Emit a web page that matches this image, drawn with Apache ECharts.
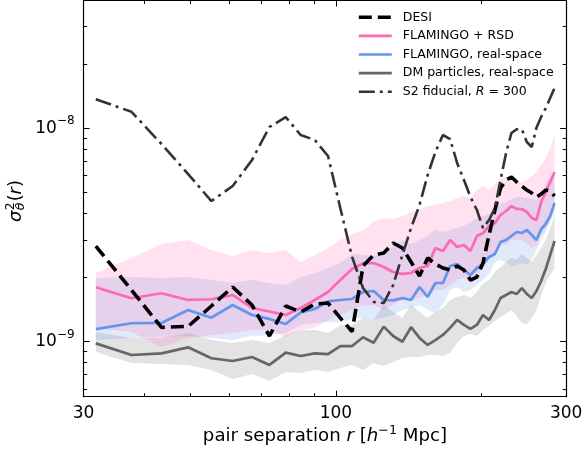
<!DOCTYPE html>
<html><head><meta charset="utf-8">
<script src="https://cdn.jsdelivr.net/npm/echarts@6/dist/echarts.min.js"></script>
<style>html,body{margin:0;padding:0;background:#fff}#c{width:583px;height:450px}</style>
</head><body><div id="c"></div>
<script>
// ---------- data ----------
const rValues = [31.8,37.7,43.5,49.4,55.2,61.1,67.0,72.8,78.7,84.5,90.4,96.3,102.1,108.0,113.8,119.7,125.6,131.4,137.3,143.1,149.0,154.9,160.7,166.6,172.4,178.3,184.2,190.0,195.9,201.7,207.6,213.5,219.3,225.2,231.0,236.9,242.8,248.6,254.5,260.3,266.2,272.1,277.9,283.8];

const desiLine = [2.806e-9,1.745e-9,1.165e-9,1.178e-9,1.468e-9,1.803e-9,1.484e-9,1.062e-9,1.468e-9,1.376e-9,1.500e-9,1.516e-9,1.291e-9,1.113e-9,2.261e-9,2.547e-9,2.602e-9,2.899e-9,2.746e-9,2.362e-9,2.030e-9,2.466e-9,2.311e-9,2.213e-9,2.166e-9,2.261e-9,2.166e-9,1.944e-9,2.008e-9,2.336e-9,3.160e-9,4.140e-9,5.248e-9,5.720e-9,5.908e-9,5.598e-9,5.362e-9,5.134e-9,4.971e-9,4.761e-9,4.918e-9,5.134e-9,5.078e-9,4.812e-9];

const rsdLine = [1.797e-9,1.596e-9,1.685e-9,1.567e-9,1.579e-9,1.654e-9,1.437e-9,1.383e-9,1.333e-9,1.437e-9,1.567e-9,1.708e-9,1.944e-9,2.189e-9,2.323e-9,2.336e-9,2.237e-9,2.120e-9,2.075e-9,2.097e-9,2.213e-9,2.261e-9,2.746e-9,2.658e-9,2.994e-9,2.777e-9,2.837e-9,2.658e-9,3.125e-9,3.229e-9,3.481e-9,3.596e-9,3.922e-9,4.094e-9,4.319e-9,4.185e-9,4.185e-9,4.052e-9,3.797e-9,3.716e-9,4.512e-9,5.025e-9,5.598e-9,6.237e-9];
const rsdUpper = [2.097e-9,2.466e-9,2.868e-9,2.994e-9,2.688e-9,2.519e-9,2.688e-9,2.602e-9,2.688e-9,2.362e-9,2.547e-9,2.746e-9,2.994e-9,3.194e-9,3.335e-9,3.637e-9,3.797e-9,3.756e-9,3.879e-9,4.052e-9,4.140e-9,4.319e-9,4.367e-9,4.462e-9,4.562e-9,4.711e-9,4.812e-9,4.711e-9,5.134e-9,5.361e-9,5.134e-9,5.420e-9,5.844e-9,5.844e-9,5.656e-9,5.537e-9,5.598e-9,5.720e-9,5.973e-9,6.237e-9,6.726e-9,7.25e-9,8.082e-9,9.373e-9];
const rsdLower = [1.159e-9,1.110e-9,0.943e-9,1.040e-9,1.074e-9,1.098e-9,1.134e-9,1.134e-9,1.051e-9,1.134e-9,1.159e-9,1.263e-9,1.333e-9,1.406e-9,1.484e-9,1.484e-9,1.406e-9,1.484e-9,1.567e-9,1.567e-9,1.601e-9,1.654e-9,1.745e-9,1.745e-9,1.842e-9,1.944e-9,1.987e-9,1.882e-9,2.052e-9,2.213e-9,2.413e-9,2.547e-9,2.837e-9,2.837e-9,2.994e-9,2.994e-9,2.994e-9,2.868e-9,2.746e-9,2.837e-9,3.160e-9,3.407e-9,3.797e-9,4.367e-9];

const realLine = [1.143e-9,1.219e-9,1.223e-9,1.406e-9,1.294e-9,1.484e-9,1.333e-9,1.277e-9,1.210e-9,1.369e-9,1.421e-9,1.542e-9,1.567e-9,1.584e-9,1.708e-9,1.726e-9,1.567e-9,1.560e-9,1.601e-9,1.567e-9,1.803e-9,1.619e-9,1.882e-9,1.882e-9,2.261e-9,2.311e-9,2.166e-9,2.052e-9,2.213e-9,2.311e-9,2.493e-9,2.575e-9,2.930e-9,2.994e-9,3.125e-9,3.264e-9,3.229e-9,3.335e-9,3.160e-9,2.994e-9,3.371e-9,3.558e-9,3.879e-9,4.462e-9];
const realUpper = [1.987e-9,2.008e-9,1.987e-9,2.008e-9,1.944e-9,1.882e-9,1.944e-9,1.882e-9,1.842e-9,2.008e-9,2.097e-9,2.213e-9,2.336e-9,2.575e-9,2.547e-9,2.519e-9,2.547e-9,2.806e-9,2.994e-9,2.868e-9,2.994e-9,3.125e-9,3.335e-9,3.264e-9,3.335e-9,3.407e-9,3.481e-9,3.637e-9,3.797e-9,3.879e-9,3.964e-9,4.274e-9,4.414e-9,4.512e-9,4.660e-9,4.761e-9,4.761e-9,4.711e-9,4.660e-9,4.610e-9,4.918e-9,5.479e-9,5.844e-9,6.169e-9];
const realLower = [1.017e-9,1.040e-9,1.051e-9,1.062e-9,1.040e-9,1.017e-9,1.062e-9,1.074e-9,1.098e-9,1.197e-9,1.223e-9,1.236e-9,1.236e-9,1.277e-9,1.291e-9,1.263e-9,1.291e-9,1.333e-9,1.406e-9,1.437e-9,1.484e-9,1.406e-9,1.361e-9,1.484e-9,1.745e-9,1.803e-9,1.708e-9,1.745e-9,1.842e-9,1.944e-9,2.075e-9,2.362e-9,2.413e-9,2.362e-9,2.261e-9,2.286e-9,2.336e-9,2.286e-9,2.413e-9,2.688e-9,2.994e-9,3.264e-9,3.637e-9,3.964e-9];

const dmLine = [0.981e-9,0.865e-9,0.881e-9,0.940e-9,0.835e-9,0.811e-9,0.847e-9,0.777e-9,0.887e-9,0.856e-9,0.881e-9,0.874e-9,0.953e-9,0.953e-9,1.048e-9,0.988e-9,1.175e-9,1.062e-9,0.998e-9,1.168e-9,1.040e-9,0.964e-9,1.017e-9,1.074e-9,1.159e-9,1.263e-9,1.197e-9,1.146e-9,1.197e-9,1.333e-9,1.263e-9,1.406e-9,1.601e-9,1.654e-9,1.708e-9,1.672e-9,1.783e-9,1.672e-9,1.601e-9,1.726e-9,1.923e-9,2.189e-9,2.547e-9,2.961e-9];
const dmUpper = [1.110e-9,1.040e-9,1.040e-9,1.098e-9,1.017e-9,0.985e-9,1.017e-9,0.985e-9,1.074e-9,1.134e-9,1.134e-9,1.098e-9,1.197e-9,1.197e-9,1.291e-9,1.263e-9,1.484e-9,1.376e-9,1.291e-9,1.484e-9,1.376e-9,1.291e-9,1.376e-9,1.437e-9,1.567e-9,1.619e-9,1.654e-9,1.601e-9,1.708e-9,1.882e-9,1.944e-9,2.120e-9,2.237e-9,2.362e-9,2.466e-9,2.413e-9,2.575e-9,2.466e-9,2.362e-9,2.547e-9,2.75e-9,3.0e-9,3.4e-9,3.9e-9];
const dmLower = [0.894e-9,0.794e-9,0.785e-9,0.777e-9,0.736e-9,0.668e-9,0.705e-9,0.654e-9,0.720e-9,0.713e-9,0.736e-9,0.720e-9,0.752e-9,0.777e-9,0.736e-9,0.794e-9,0.768e-9,0.803e-9,0.837e-9,0.847e-9,0.847e-9,0.865e-9,0.865e-9,0.856e-9,0.884e-9,0.985e-9,1.062e-9,1.086e-9,1.062e-9,1.134e-9,1.184e-9,1.249e-9,1.305e-9,1.348e-9,1.406e-9,1.319e-9,1.223e-9,1.210e-9,1.291e-9,1.406e-9,1.637e-9,1.882e-9,2.052e-9,2.213e-9];

const s2Line = [13.68e-9,11.95e-9,8.44e-9,6.103e-9,4.560e-9,5.361e-9,7.100e-9,10.14e-9,11.29e-9,9.302e-9,8.813e-9,7.412e-9,4.228e-9,2.497e-9,1.783e-9,1.534e-9,1.516e-9,1.842e-9,2.547e-9,3.407e-9,4.367e-9,6.038e-9,7.742e-9,9.302e-9,8.908e-9,6.872e-9,5.720e-9,4.761e-9,4.140e-9,3.407e-9,3.716e-9,4.228e-9,5.720e-9,7.657e-9,9.504e-9,9.896e-9,9.896e-9,8.625e-9,8.171e-9,10.07e-9,11.29e-9,12.44e-9,13.86e-9,15.45e-9];

const xLabelTicks = [30, 100, 300];
const xMajorTicks = [100];
const xMinorTicks = [40, 50, 60, 70, 80, 90, 200];
const yLabelTicks = [1e-9, 1e-8];
const yMinorTicks = [6e-10, 7e-10, 8e-10, 9e-10, 2e-9, 3e-9, 4e-9, 5e-9, 6e-9, 7e-9, 8e-9, 9e-9, 2e-8, 3e-8];
const legendNames = ['DESI', 'FLAMINGO + RSD', 'FLAMINGO, real-space', 'DM particles, real-space', 'S2 fiducial, R = 300'];

// ---------- setup ----------
const X_MIN = 30, X_MAX = 300, Y_MIN = 5.515e-10, Y_MAX = 3.974e-8;
const FONT = '"DejaVu Sans"';
const pairs = arr => rValues.map((r, i) => [r, arr[i]]);

const DESI_DASH = [13, 6], S2_DASH = [16, 5, 3, 5];
const COLORS = { desi: '#000000', rsd: '#FF69B4', real: '#6495ED', dm: '#666666', s2: '#333333' };

function band(lower, upper, color) {
  return {
    type: 'custom', silent: true, clip: true,
    data: rValues.map((r, i) => [r, lower[i], upper[i]]),
    encode: { x: 0, y: [1, 2] },
    renderItem: (params, api) => {
      if (params.dataIndex !== 0) return null;
      const pts = [];
      for (let i = 0; i < rValues.length; i++) pts.push(api.coord([rValues[i], upper[i]]));
      for (let i = rValues.length - 1; i >= 0; i--) pts.push(api.coord([rValues[i], lower[i]]));
      return { type: 'polygon', shape: { points: pts }, style: { fill: color, stroke: null } };
    }
  };
}
function line(name, arr, color, width, type) {
  return { type: 'line', name: name, data: pairs(arr), symbol: 'none', showSymbol: false,
    lineStyle: { color: color, width: width, type: type || 'solid', cap: 'butt' },
    itemStyle: { color: color }, silent: true, emphasis: { disabled: true } };
}

const series = [
  band(dmLower, dmUpper, 'rgba(128,128,128,0.22)'),
  line('DM particles, real-space', dmLine, COLORS.dm, 2.7),
  band(realLower, realUpper, 'rgba(100,149,237,0.2)'),
  line('FLAMINGO, real-space', realLine, COLORS.real, 2.7),
  band(rsdLower, rsdUpper, 'rgba(255,105,180,0.2)'),
  line('FLAMINGO + RSD', rsdLine, COLORS.rsd, 2.7),
  line('DESI', desiLine, COLORS.desi, 3.6, DESI_DASH),
  line('S2 fiducial, R = 300', s2Line, COLORS.s2, 2.6, S2_DASH)
];

const tickStyle = { color: '#000', width: 1 };
function xAxisDef(pos, ticks, len, withLine, withLabels) {
  return {
    type: 'log', logBase: 10, min: X_MIN, max: X_MAX, position: pos,
    axisLine: { show: withLine, onZero: false, lineStyle: { color: '#000', width: 1.2 } },
    axisTick: { show: true, inside: true, length: len, lineStyle: tickStyle, customValues: ticks },
    axisLabel: withLabels ? {
      show: true, customValues: xLabelTicks, margin: 8, fontFamily: FONT, fontSize: 17, color: '#000',
      formatter: v => String(Math.round(v))
    } : { show: false },
    minorTick: { show: false }, splitLine: { show: false }, minorSplitLine: { show: false }
  };
}
function yAxisDef(pos, ticks, len, withLine, withLabels) {
  return {
    type: 'log', logBase: 10, min: Y_MIN, max: Y_MAX, position: pos,
    axisLine: { show: withLine, onZero: false, lineStyle: { color: '#000', width: 1.2 } },
    axisTick: { show: true, inside: true, length: len, lineStyle: tickStyle, customValues: ticks },
    axisLabel: withLabels ? {
      show: true, customValues: yLabelTicks, margin: 9, color: '#000',
      formatter: v => '{b|10}{s|\u2212' + Math.abs(Math.round(Math.log10(v))) + '}',
      rich: {
        b: { fontFamily: FONT, fontSize: 17, color: '#000', lineHeight: 26 },
        s: { fontFamily: FONT, fontSize: 12, color: '#000', lineHeight: 8, verticalAlign: 'top' }
      }
    } : { show: false },
    minorTick: { show: false }, splitLine: { show: false }, minorSplitLine: { show: false }
  };
}

// ---------- text layout helpers (axis titles with math) ----------
const ctx = document.createElement('canvas').getContext('2d');
function tw(t, size, italic) { ctx.font = (italic ? 'italic ' : '') + size + 'px ' + FONT; return ctx.measureText(t).width; }
function txt(t, x, y, size, italic) {
  return { type: 'text', x: x, y: y, silent: true,
    style: { text: t, fontFamily: 'DejaVu Sans', fontSize: size, fontStyle: italic ? 'italic' : 'normal',
      fill: '#000', align: 'left', verticalAlign: 'middle' } };
}
const T = 18.2, S = 12.7;
const xParts = [
  { t: 'pair separation ', s: T, i: false, dy: 0 },
  { t: 'r', s: T, i: true, dy: 0 },
  { t: ' [', s: T, i: false, dy: 0 },
  { t: 'h', s: T, i: true, dy: 0 },
  { t: '\u22121', s: S, i: false, dy: -6 },
  { t: ' Mpc]', s: T, i: false, dy: 0 }
];
let W = 0; xParts.forEach(p => { p.w = tw(p.t, p.s, p.i); W += p.w; });
const xTitle = []; let cx = 325 - W / 2;
xParts.forEach(p => { xTitle.push(txt(p.t, cx, 436.5 + p.dy, p.s, p.i)); cx += p.w; });

const TY = 17.8, SY = 12.4;
const wSig = tw('\u03c3', TY, true), wTh = tw('\u03b8', SY, true), w2 = tw('2', SY, false);
let px = wSig + Math.max(wTh, w2) + 1.5;
const yChildren = [
  txt('\u03c3', 0, 0, TY, true),
  txt('2', wSig + 0.5, -5.5, SY, false),
  txt('\u03b8', wSig + 0.5, 4, SY, true)
];
[['(', false], ['r', true], [')', false]].forEach(([t, it]) => { yChildren.push(txt(t, px, 0, TY, it)); px += tw(t, TY, it); });

const legendData = [
  { name: 'DESI', lineStyle: { color: COLORS.desi, width: 3.6, type: DESI_DASH } },
  { name: 'FLAMINGO + RSD', lineStyle: { color: COLORS.rsd, width: 2.7, type: 'solid' } },
  { name: 'FLAMINGO, real-space', lineStyle: { color: COLORS.real, width: 2.7, type: 'solid' } },
  { name: 'DM particles, real-space', lineStyle: { color: COLORS.dm, width: 2.7, type: 'solid' } },
  { name: 'S2 fiducial, R = 300', lineStyle: { color: COLORS.s2, width: 2.6, type: S2_DASH } }
];

// ---------- chart ----------
const chart = echarts.init(document.getElementById('c'), null, { renderer: 'canvas', width: 583, height: 450 });
chart.setOption({
  animation: false,
  backgroundColor: '#ffffff',
  grid: { left: 83.6, right: 16.8, top: 0.5, bottom: 53.3, outerBoundsMode: 'none', containLabel: false },
  xAxis: [
    xAxisDef('bottom', xMajorTicks, 6, true, true),
    xAxisDef('bottom', xMinorTicks, 3.5, false, false),
    xAxisDef('top', xMajorTicks, 6, true, false),
    xAxisDef('top', xMinorTicks, 3.5, false, false)
  ],
  yAxis: [
    yAxisDef('left', yLabelTicks, 6, true, true),
    yAxisDef('left', yMinorTicks, 3.5, false, false),
    yAxisDef('right', yLabelTicks, 6, true, false),
    yAxisDef('right', yMinorTicks, 3.5, false, false)
  ],
  legend: {
    data: legendData, orient: 'vertical', left: 357, top: 10.3, padding: 0,
    itemWidth: 33, itemHeight: 14, itemGap: 4.6, selectedMode: false,
    itemStyle: { opacity: 0, borderWidth: 0 },
    textStyle: { fontFamily: FONT, fontSize: 12.5, color: '#000', lineHeight: 14, padding: [0, 0, 0, 6],
      rich: {
        n: { fontFamily: FONT, fontSize: 12.5, color: '#000', lineHeight: 14 },
        i: { fontFamily: FONT, fontSize: 12.5, color: '#000', lineHeight: 14, fontStyle: 'italic' }
      } },
    formatter: name => name === 'S2 fiducial, R = 300' ? '{n|S2 fiducial, }{i|R}{n| = 300}' : name
  },
  graphic: [
    { type: 'group', x: 0, y: 0, silent: true, children: xTitle },
    { type: 'group', x: 16.7, y: 222, rotation: Math.PI / 2, silent: true, children: yChildren }
  ],
  series: series
});
</script>
</body></html>
